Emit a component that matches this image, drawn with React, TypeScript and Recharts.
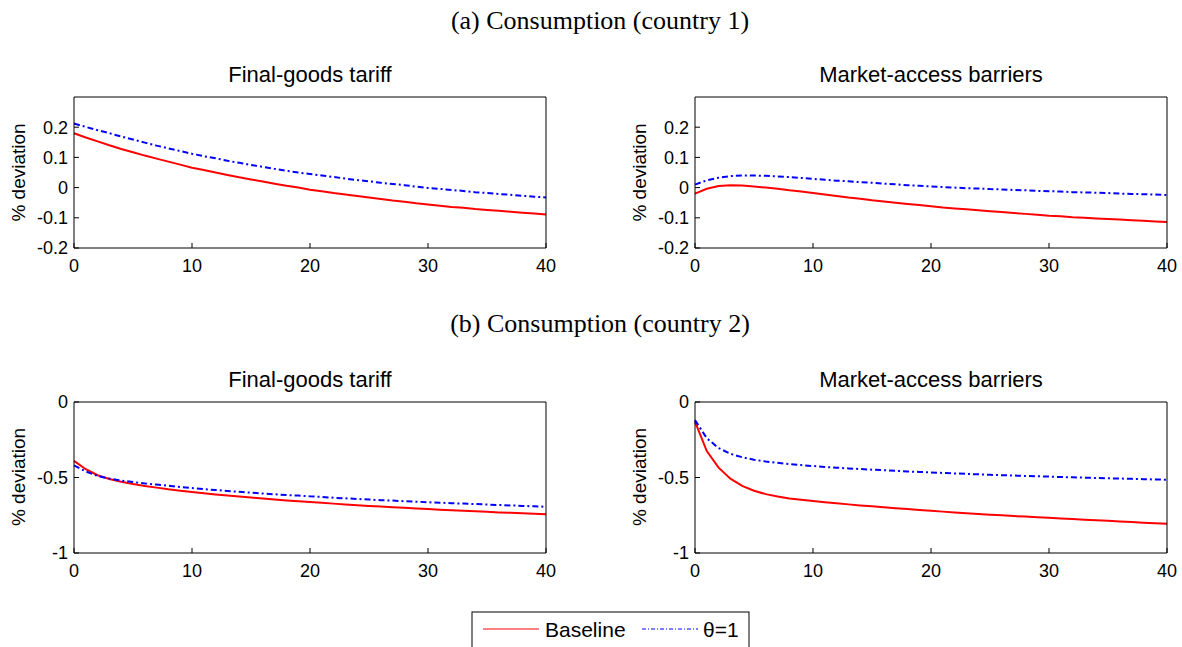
import { LineChart, Line, XAxis, YAxis } from 'recharts'

// horizon 0..40 quarters
const periods = Array.from({ length: 41 }, (_, i) => i)

// (a) country 1, final-goods tariff
const c1TariffBase = [
  0.180, 0.166, 0.153, 0.140, 0.128, 0.117, 0.106, 0.096, 0.086, 0.076,
  0.066, 0.058, 0.050, 0.042, 0.034, 0.027, 0.020, 0.013, 0.006, 0.000,
  -0.007, -0.012, -0.018, -0.023, -0.028, -0.033, -0.038, -0.043, -0.047, -0.052,
  -0.056, -0.060, -0.064, -0.067, -0.071, -0.074, -0.077, -0.080, -0.083, -0.086,
  -0.089,
]
const c1TariffTheta = [
  0.212, 0.201, 0.190, 0.180, 0.169, 0.159, 0.149, 0.139, 0.130, 0.121,
  0.112, 0.104, 0.097, 0.089, 0.082, 0.075, 0.069, 0.062, 0.056, 0.050,
  0.045, 0.040, 0.035, 0.030, 0.025, 0.021, 0.016, 0.012, 0.008, 0.003,
  -0.001, -0.004, -0.008, -0.011, -0.015, -0.018, -0.021, -0.024, -0.027, -0.030,
  -0.033,
]
// (a) country 1, market-access barriers
const c1BarrierBase = [
  -0.020, -0.004, 0.005, 0.008, 0.007, 0.004, 0.000, -0.004, -0.009, -0.013,
  -0.018, -0.023, -0.028, -0.033, -0.037, -0.042, -0.046, -0.050, -0.054, -0.058,
  -0.062, -0.066, -0.069, -0.072, -0.075, -0.078, -0.081, -0.084, -0.087, -0.090,
  -0.093, -0.095, -0.098, -0.100, -0.102, -0.104, -0.106, -0.108, -0.110, -0.112,
  -0.114,
]
const c1BarrierTheta = [
  0.010, 0.024, 0.033, 0.038, 0.040, 0.040, 0.039, 0.037, 0.035, 0.032,
  0.029, 0.026, 0.023, 0.021, 0.018, 0.016, 0.013, 0.011, 0.008, 0.006,
  0.004, 0.002, 0.000, -0.002, -0.003, -0.005, -0.006, -0.008, -0.009, -0.011,
  -0.012, -0.013, -0.015, -0.016, -0.017, -0.018, -0.020, -0.021, -0.022, -0.023,
  -0.025,
]
// (b) country 2, final-goods tariff
const c2TariffBase = [
  -0.390, -0.445, -0.485, -0.510, -0.528, -0.543, -0.556, -0.567, -0.578, -0.587,
  -0.596, -0.604, -0.612, -0.619, -0.626, -0.633, -0.639, -0.646, -0.652, -0.658,
  -0.663, -0.668, -0.673, -0.678, -0.683, -0.688, -0.692, -0.697, -0.701, -0.705,
  -0.709, -0.713, -0.717, -0.720, -0.724, -0.727, -0.731, -0.734, -0.737, -0.740,
  -0.743,
]
const c2TariffTheta = [
  -0.420, -0.460, -0.490, -0.507, -0.520, -0.530, -0.539, -0.547, -0.555, -0.563,
  -0.570, -0.577, -0.583, -0.589, -0.595, -0.600, -0.606, -0.611, -0.616, -0.620,
  -0.625, -0.629, -0.634, -0.638, -0.642, -0.646, -0.650, -0.653, -0.657, -0.660,
  -0.664, -0.667, -0.670, -0.673, -0.676, -0.679, -0.682, -0.685, -0.688, -0.691,
  -0.694,
]
// (b) country 2, market-access barriers
const c2BarrierBase = [
  -0.130, -0.325, -0.435, -0.508, -0.555, -0.588, -0.610, -0.626, -0.639, -0.648,
  -0.656, -0.664, -0.671, -0.678, -0.685, -0.691, -0.697, -0.703, -0.709, -0.715,
  -0.720, -0.726, -0.731, -0.736, -0.741, -0.746, -0.750, -0.755, -0.759, -0.763,
  -0.767, -0.771, -0.775, -0.779, -0.783, -0.787, -0.791, -0.795, -0.799, -0.803,
  -0.807,
]
const c2BarrierTheta = [
  -0.120, -0.240, -0.305, -0.343, -0.366, -0.382, -0.394, -0.403, -0.411, -0.418,
  -0.424, -0.430, -0.435, -0.440, -0.444, -0.448, -0.452, -0.456, -0.460, -0.463,
  -0.467, -0.470, -0.473, -0.476, -0.479, -0.482, -0.485, -0.487, -0.490, -0.492,
  -0.494, -0.497, -0.499, -0.501, -0.503, -0.505, -0.507, -0.509, -0.511, -0.513,
  -0.515,
]

const xTicks = [0, 10, 20, 30, 40]
const yTicksTop = [-0.2, -0.1, 0, 0.1, 0.2]
const yTicksBottom = [-1, -0.5, 0]

const SANS = '"Liberation Sans", Arial, Helvetica, sans-serif'
const SERIF = '"Liberation Serif", "DejaVu Serif", serif'
const DASHDOT = '6 3 2 3'

function rows(base: number[], theta: number[]) {
  return periods.map((t, i) => ({ t, base: base[i], theta: theta[i] }))
}

interface PanelProps {
  left: number
  top: number
  base: number[]
  theta: number[]
  domain: [number, number]
  yTicks: number[]
}

const W = 566
const H = 221

function Panel({ left, top, base, theta, domain, yTicks }: PanelProps) {
  const data = rows(base, theta)
  const tickStyle = { fontSize: 18, fill: '#000', fontFamily: SANS }
  return (
    <div style={{ position: 'absolute', left, top, width: W, height: H }}>
      <LineChart width={W} height={H} data={data} margin={{ top: 20, right: 10, bottom: 0, left: 0 }}>
        <XAxis
          dataKey="t" type="number" domain={[0, 40]} ticks={xTicks}
          tick={tickStyle} tickSize={-5} tickMargin={16} height={40}
          axisLine={{ stroke: '#000' }} tickLine={{ stroke: '#000' }}
        />
        <XAxis
          xAxisId="top" orientation="top" dataKey="t" type="number" domain={[0, 40]}
          ticks={xTicks} tick={false} tickSize={-5} height={10}
          axisLine={{ stroke: '#000' }} tickLine={{ stroke: '#000' }}
        />
        <YAxis
          type="number" domain={domain} ticks={yTicks} allowDataOverflow
          tick={tickStyle} tickSize={-5} tickMargin={11} width={74}
          axisLine={{ stroke: '#000' }} tickLine={{ stroke: '#000' }}
        />
        <YAxis
          yAxisId="right" orientation="right" type="number" domain={domain} ticks={yTicks}
          tick={false} tickSize={-5} width={10}
          axisLine={{ stroke: '#000' }} tickLine={{ stroke: '#000' }}
        />
        <Line
          dataKey="base" type="linear" stroke="#ff0000" strokeWidth={2}
          dot={false} activeDot={false} isAnimationActive={false}
        />
        <Line
          dataKey="theta" type="linear" stroke="#0000ff" strokeWidth={2}
          strokeDasharray={DASHDOT} dot={false} activeDot={false} isAnimationActive={false}
        />
      </LineChart>
    </div>
  )
}

export default function App() {
  return (
    <div style={{ position: 'absolute', left: 0, top: 0, width: 1182, height: 647, background: '#fff' }}>
      <Panel left={0} top={67} base={c1TariffBase} theta={c1TariffTheta} domain={[-0.2, 0.3]} yTicks={yTicksTop} />
      <Panel left={621} top={67} base={c1BarrierBase} theta={c1BarrierTheta} domain={[-0.2, 0.3]} yTicks={yTicksTop} />
      <Panel left={0} top={372} base={c2TariffBase} theta={c2TariffTheta} domain={[-1, 0]} yTicks={yTicksBottom} />
      <Panel left={621} top={372} base={c2BarrierBase} theta={c2BarrierTheta} domain={[-1, 0]} yTicks={yTicksBottom} />

      <svg width={1182} height={647} style={{ position: 'absolute', left: 0, top: 0, pointerEvents: 'none' }}>
        <g fontFamily={SERIF} fontSize={26} fill="#000" textAnchor="middle">
          <text x={600} y={29}>(a) Consumption (country 1)</text>
          <text x={600} y={332}>(b) Consumption (country 2)</text>
        </g>
        <g fontFamily={SANS} fontSize={22} fill="#000" textAnchor="middle">
          <text x={310} y={82}>Final-goods tariff</text>
          <text x={931} y={82}>Market-access barriers</text>
          <text x={310} y={387}>Final-goods tariff</text>
          <text x={931} y={387}>Market-access barriers</text>
        </g>
        <g fontFamily={SANS} fontSize={19} fill="#000" textAnchor="middle">
          <text transform="translate(25,172.5) rotate(-90)">% deviation</text>
          <text transform="translate(646,172.5) rotate(-90)">% deviation</text>
          <text transform="translate(25,477) rotate(-90)">% deviation</text>
          <text transform="translate(646,477) rotate(-90)">% deviation</text>
        </g>
        <g>
          <rect x={472} y={612} width={277} height={40} fill="#fff" stroke="#000" strokeWidth={1} />
          <line x1={483} y1={629} x2={539} y2={629} stroke="#ff0000" strokeWidth={1} />
          <text x={545} y={637} fontFamily={SANS} fontSize={21} fill="#000">Baseline</text>
          <line x1={642} y1={629} x2={698} y2={629} stroke="#0000ff" strokeWidth={1} strokeDasharray="4 2 1 2" />
          <text x={703} y={637} fontFamily={SANS} fontSize={21} fill="#000">θ=1</text>
        </g>
      </svg>
    </div>
  )
}
